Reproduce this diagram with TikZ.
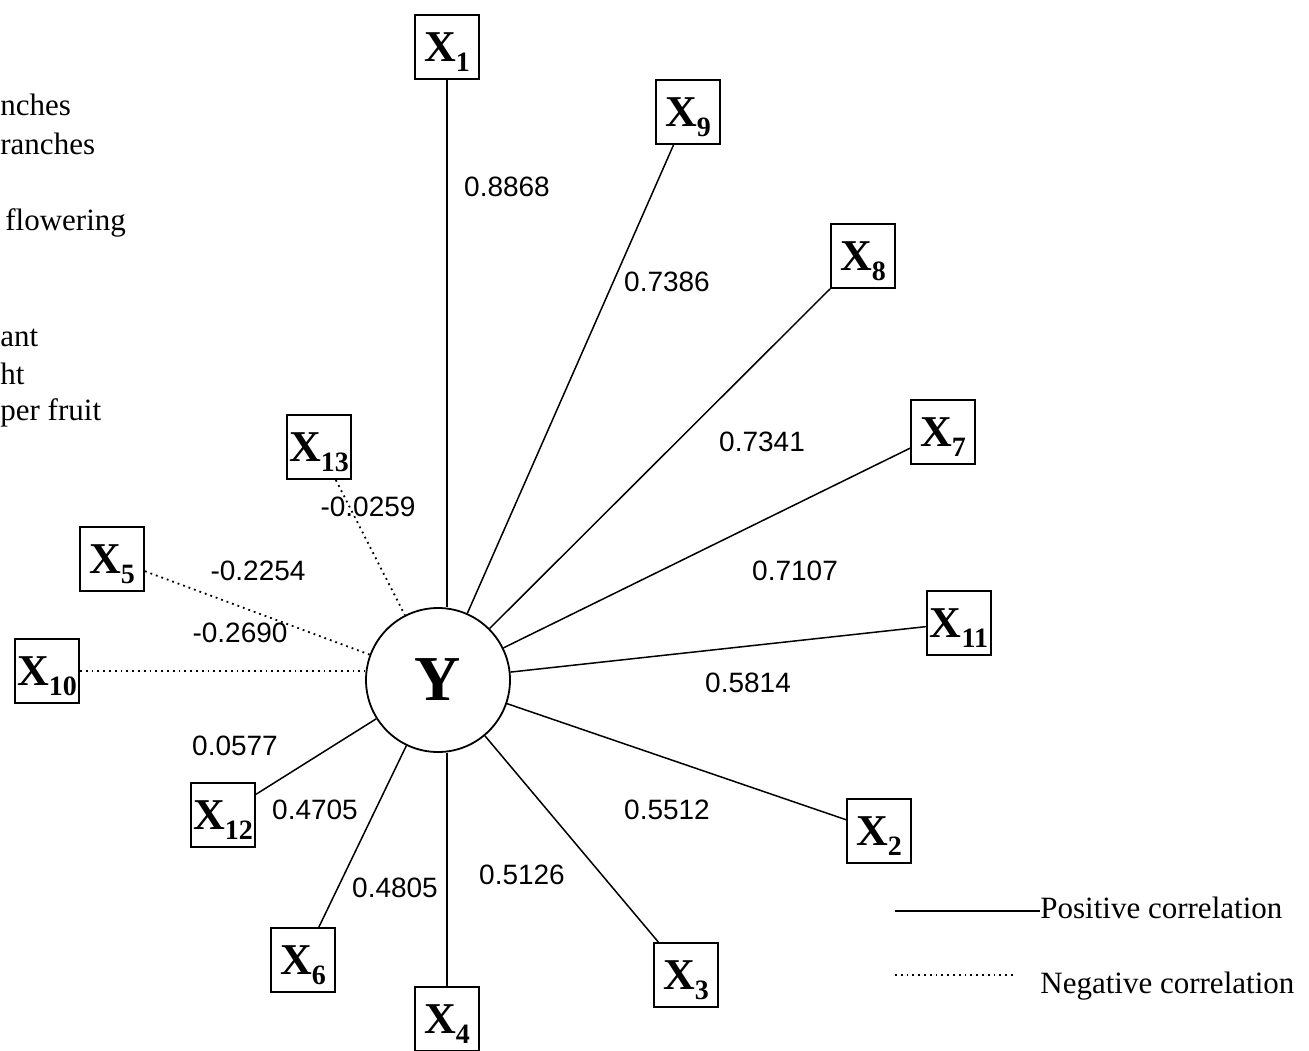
\documentclass[tikz,border=0pt]{standalone}
\usepackage{fontspec}
\setmainfont{Liberation Serif}
\setsansfont{Liberation Sans}
\newcommand{\xsub}[1]{X\raisebox{-5pt}[0pt][0pt]{\fontsize{14}{15}\selectfont #1}}
\begin{document}
\begin{tikzpicture}[x=0.5pt,y=-0.5pt,
  varbox/.style={draw,line width=1pt,minimum size=32pt,inner sep=0pt,
    font=\fontsize{22}{24}\selectfont\bfseries},
  ycircle/.style={draw,circle,line width=0.9pt,minimum size=72pt,inner sep=0pt,
    font=\fontsize{32}{34}\selectfont\bfseries},
  poscorr/.style={line width=0.75pt},
  negcorr/.style={line width=0.9pt,dotted},
  coef/.style={font=\sffamily\fontsize{14}{16}\selectfont,inner sep=0pt},
  cuttext/.style={anchor=base west,inner sep=0pt,font=\fontsize{15.5}{18}\selectfont}]
  \useasboundingbox (0,0) rectangle (1309,1050);
  \clip (0,0) rectangle (1309,1050);

  % left list, cut off by the frame
  \foreach \t/\xx/\yy in {nches/0/115,ranches/0/154,flowering/5/230,ant/0/346,ht/0/384,per fruit/0/420}
    \node[cuttext] at (\xx,\yy) {\t};

  % centre
  \node[ycircle] (y) at (438,680) {Y};

  % variables
  \foreach \n/\xx/\yy in {1/447/47, 9/688/112, 8/863/256, 7/943/432, 11/959/623,
                          2/879/831, 3/686/975, 4/447/1019, 6/303/960, 12/223/815,
                          10/47/671, 5/112/559, 13/319/447}
    \node[varbox] (x\n) at (\xx,\yy) {\xsub{\n}};

  % connectors
  \draw[poscorr] (x1) -- (x1 |- y.north);
  \draw[poscorr] (x4) -- (x4 |- y.south);
  \foreach \n in {9,8,7,11,2,3,6,12}
    \draw[poscorr] (x\n) -- (y);
  \draw[negcorr] (x10.east) -- (y.west |- x10);
  \foreach \n in {5,13}
    \draw[negcorr] (x\n) -- (y);

  % coefficients
  \foreach \v/\xx/\yy [count=\i] in {0.8868/507/187, 0.7386/667/282, 0.7341/762/442,
      0.7107/795/571, 0.5814/748/683, 0.5512/667/810, 0.5126/522/875,
      0.4805/395/888, 0.4705/315/810, 0.0577/235/746, -0.2690/240/633,
      -0.2254/258/571, -0.0259/368/507}
    \node[coef] (c\i) at (\xx,\yy) {\v};

  % legend
  \node[cuttext] (postxt) at (1040,918) {Positive correlation};
  \node[cuttext] (negtxt) at (1040,993) {Negative correlation};
  \coordinate (posa) at (895,911);
  \coordinate (nega) at (895,975);
  \coordinate (negb) at (1015,975);
  \draw[poscorr] (posa) -- (posa -| postxt.west);
  \draw[negcorr] (nega) -- (negb);
\end{tikzpicture}
\end{document}
